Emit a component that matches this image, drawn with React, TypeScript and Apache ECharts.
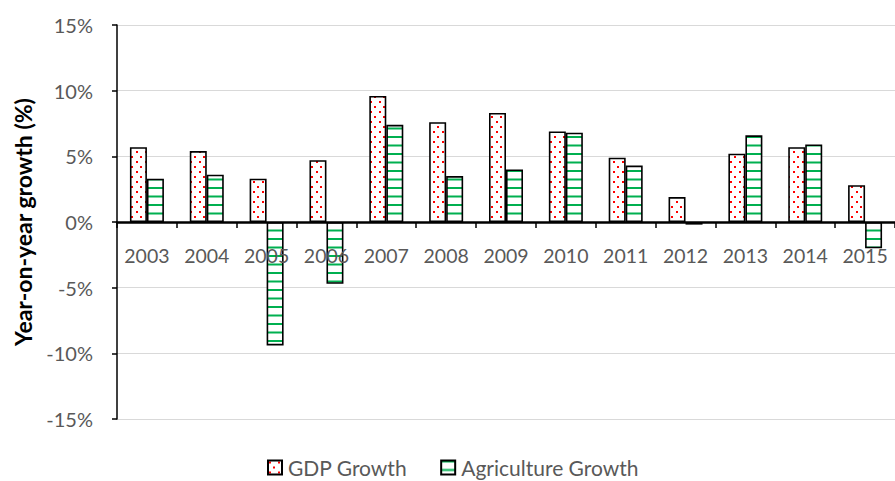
import React, { useEffect, useRef } from "react";
import * as echarts from "echarts";

const years = ["2003", "2004", "2005", "2006", "2007", "2008", "2009", "2010", "2011", "2012", "2013", "2014", "2015"];
const gdpGrowth = [5.7, 5.4, 3.3, 4.7, 9.6, 7.6, 8.3, 6.9, 4.9, 1.9, 5.2, 5.7, 2.8];
const agriGrowth = [3.3, 3.6, -9.4, -4.7, 7.4, 3.5, 4.0, 6.8, 4.3, -0.2, 6.6, 5.9, -2.0];
const seriesNames = ["GDP Growth", "Agriculture Growth"];
const yAxisTitle = "Year-on-year growth (%)";

const FONT = "Lato, 'Liberation Sans', sans-serif";

function makeDots(): HTMLCanvasElement {
  const c = document.createElement("canvas");
  c.width = 9;
  c.height = 10;
  const ctx = c.getContext("2d")!;
  ctx.fillStyle = "#ffffff";
  ctx.fillRect(0, 0, 9, 10);
  ctx.fillStyle = "#ff0000";
  ctx.fillRect(1, 1, 2, 2);
  ctx.fillRect(5, 6, 2, 2);
  return c;
}

function makeStripes(): HTMLCanvasElement {
  const c = document.createElement("canvas");
  c.width = 4;
  c.height = 17;
  const ctx = c.getContext("2d")!;
  ctx.fillStyle = "#ffffff";
  ctx.fillRect(0, 0, 4, 17);
  ctx.fillStyle = "#00b050";
  ctx.fillRect(0, 0, 4, 2);
  ctx.fillRect(0, 8.5, 4, 2);
  return c;
}

export default function App() {
  const ref = useRef<HTMLDivElement>(null);
  useEffect(() => {
    if (!ref.current) return;
    const chart = echarts.init(ref.current, undefined, { renderer: "svg" });
    const dotFill = { image: makeDots(), repeat: "repeat" };
    const stripeFill = { image: makeStripes(), repeat: "repeat" };
    chart.setOption({
      animation: false,
      textStyle: { fontFamily: FONT },
      grid: { left: 117, top: 25, width: 787, height: 394, containLabel: false },
      legend: {
        top: 457,
        left: 267,
        padding: 0,
        icon: "rect",
        itemWidth: 14,
        itemHeight: 14,
        itemGap: 33,
        textStyle: { color: "#595959", fontSize: 21, fontFamily: FONT, padding: [0, 0, 0, 1] },
        data: seriesNames,
      },
      xAxis: {
        type: "category",
        data: years,
        z: 5,
        position: "bottom",
        offset: -197,
        axisLine: { onZero: false, lineStyle: { color: "#000000", width: 2.5 } },
        axisTick: { show: true, length: 6, lineStyle: { color: "#000000", width: 1.5 } },
        axisLabel: { color: "#595959", fontSize: 19.5, margin: 23, fontFamily: FONT, interval: 0 },
        splitLine: { show: false },
      },
      yAxis: {
        type: "value",
        min: -15,
        max: 15,
        interval: 5,
        name: yAxisTitle,
        nameLocation: "middle",
        nameRotate: 90,
        nameGap: 83,
        nameTextStyle: { color: "#000000", fontSize: 23, fontWeight: "bold", fontFamily: FONT },
        axisLine: { show: true, lineStyle: { color: "#000000", width: 1.5 } },
        axisTick: { show: true, length: 5, lineStyle: { color: "#000000", width: 1.5 } },
        axisLabel: { color: "#595959", fontSize: 20, margin: 24, formatter: "{value}%", fontFamily: FONT },
        splitLine: { show: true, lineStyle: { color: "#d9d9d9", width: 1.2 } },
      },
      series: [
        {
          name: seriesNames[0],
          type: "bar",
          data: gdpGrowth,
          barWidth: 17,
          barGap: "0%",
          itemStyle: { color: dotFill, borderColor: "#000000", borderWidth: 1.6 },
        },
        {
          name: seriesNames[1],
          type: "bar",
          data: agriGrowth,
          barWidth: 17,
          barGap: "0%",
          itemStyle: { color: stripeFill, borderColor: "#000000", borderWidth: 1.6 },
        },
      ],
    });
    return () => chart.dispose();
  }, []);
  return (
    <div
      ref={ref}
      style={{ position: "fixed", left: 0, top: 0, width: 895, height: 481, background: "#ffffff" }}
    />
  );
}
